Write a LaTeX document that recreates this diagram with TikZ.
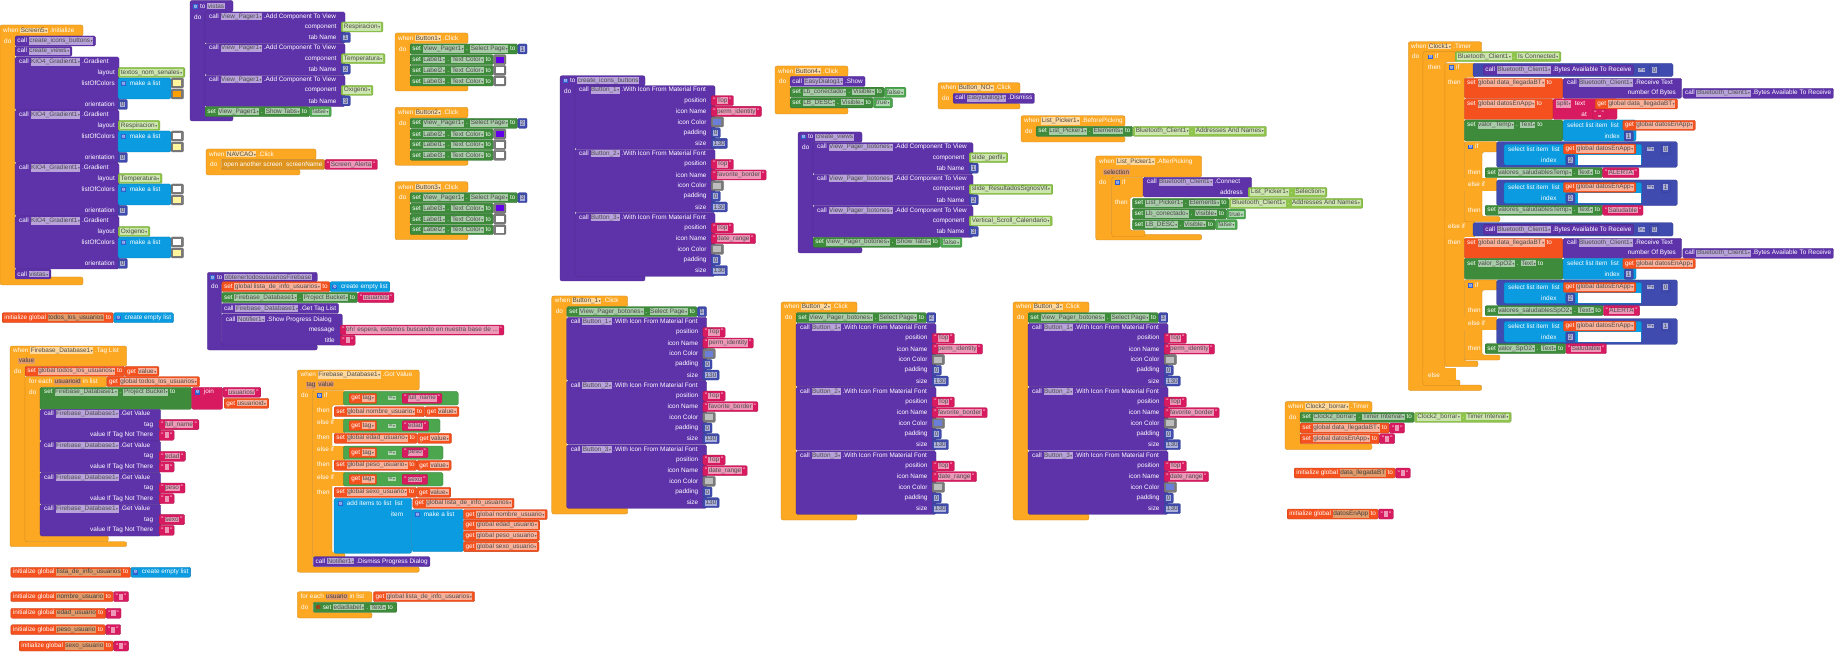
\documentclass[tikz,border=0pt]{standalone}
\usepackage{fontspec}
\setmainfont{Liberation Sans}
\newfontfamily\sym{DejaVu Sans}
\definecolor{cE}{HTML}{FDA823}
\definecolor{cP}{HTML}{5E33AA}
\definecolor{cG}{HTML}{3E8C3B}
\definecolor{cLG}{HTML}{8EC44C}
\definecolor{cM}{HTML}{D81B60}
\definecolor{cN}{HTML}{3F4BAE}
\definecolor{cV}{HTML}{F4511E}
\definecolor{cC}{HTML}{0A9BE0}
\definecolor{cGr}{HTML}{7A7A7A}
\definecolor{cL}{HTML}{4CA64E}
\definecolor{cY}{HTML}{FFF59D}
\definecolor{cO}{HTML}{FFA000}
\definecolor{cPu}{HTML}{6200EA}
\definecolor{cBl}{HTML}{6C7FD8}
\definecolor{cLg}{HTML}{BDBDBD}
\definecolor{cPar}{HTML}{E39B6A}
\definecolor{cGear}{HTML}{2F5FD0}
\newcommand\ft{\fontsize{6.4}{7}\selectfont}
\newcommand\dd{{\sym\fontsize{3.6}{4}\selectfont\,▾}}
\newcommand\fb[2]{{\fboxsep=0.6pt\colorbox{#1!45!white}{\textcolor{black!70}{#2}}}}
\newcommand\fd[2]{\fb{#1}{#2\dd}}
\newcommand\pf[1]{{\fboxsep=0.6pt\colorbox{cPar}{\textcolor{black!75}{#1}}}}
\newcommand\gear{{\fboxsep=0.5pt\colorbox{cGear}{\textcolor{white}{\sym\fontsize{4.6}{5}\selectfont ⚙}}}}
\newcommand\Cs[9]{\filldraw[#1,draw=#1!80!black,line width=0.3pt,rounded corners=2pt] (#2,#3) -- (#4,#3) -- (#4,#5) -- (#6,#5) -- (#6,#7) -- (#8,#7) -- (#8,#9) -- (#2,#9) -- cycle;}
\newcommand\Bx[3]{\filldraw[#1,draw=#1!80!black,line width=0.3pt,rounded corners=1.5pt] (#2) rectangle (#3);}
\newcommand\V[4][]{\node[v,fill=#2,draw=#2!80!black,#1] at (#3) {#4};}
\newcommand\Lb[2]{\node[lb] at (#1) {#2};}
\newcommand\Lr[2]{\node[lr] at (#1) {#2};}
\newcommand\Num[2]{\V{cN}{#1}{\fb{cN}{#2}}}
\newcommand\Str[2]{\V{cM}{#1}{"\,\fb{cM}{#2}\,"}}
\newcommand\Es[1]{\Str{#1}{\rule{0pt}{4.5pt}\hspace{3pt}}}
\newcommand\Sw[2]{\V{cGr}{#1}{{\fboxsep=0pt\colorbox{#2}{\rule{0pt}{6pt}\hspace{8pt}}}}}
\newcommand\Grad[4]{%
\Bx{cP}{15,#1}{119,#1+53}
\Lb{19,#1+5}{call \fd{cP}{KIO4\_Gradient1} .Gradient}
\Lr{115,#1+15.5}{layout}
\V{cLG}{118,#1+15.5}{\fd{cLG}{#2}}
\Lr{115,#1+26}{listOfColors}
\Bx{cC}{118,#1+21}{171,#1+42}
\Lb{121,#1+26}{\gear\ \ make a list}
\Sw{171,#1+26}{#3}
\Sw{171,#1+37}{#4}
\Lr{115,#1+47.5}{orientation}
\Num{118,#1+47.5}{0}}
\newcommand\AddC[6]{%
\Bx{cP}{#1,#2}{#3,#2+31.3}
\Lb{#1+4,#2+4.5}{call \fd{cP}{#4} .Add Component To View}
\Lr{#3-8.3,#2+15}{component}
\V{cLG}{#3-4,#2+15}{\fd{cLG}{#5}}
\Lr{#3-8.3,#2+25.5}{tab Name}
\Num{#3-4,#2+25.5}{#6}}
\newcommand\BtnC[5]{%
\Cs{cE}{395}{#1}{468}{#1+10.5}{410}{#1+52}{468}{#1+58}
\Lb{398,#1+5.3}{when \fd{cE}{Button#2} .Click}
\Lb{399,#1+16}{do}
\V[name=a]{cG}{410,#1+16}{set \fd{cG}{View\_Pager1} . \fd{cG}{Select Page} to}
\Num{a.east}{#2}
\V[name=a]{cG}{410,#1+26.7}{set \fd{cG}{Label#3} . \fd{cG}{Text Color} to}
\Sw{a.east}{cPu}
\V[name=a]{cG}{410,#1+37.3}{set \fd{cG}{Label#4} . \fd{cG}{Text Color} to}
\Sw{a.east}{white}
\V[name=a]{cG}{410,#1+48}{set \fd{cG}{Label#5} . \fd{cG}{Text Color} to}
\Sw{a.east}{white}}
\newcommand\IconC[5]{%
\Bx{cP}{#1,#2}{#1+140,#2+63.3}
\Lb{#1+4,#2+4.5}{call \fd{cP}{Button\_#3} .With Icon From Material Font}
\Lr{#1+131.7,#2+15}{position}
\Str{#1+136,#2+15}{Top}
\Lr{#1+131.7,#2+25.7}{icon Name}
\Str{#1+136,#2+25.7}{#4}
\Lr{#1+131.7,#2+36.3}{icon Color}
\Sw{#1+136,#2+36.3}{#5}
\Lr{#1+131.7,#2+47}{padding}
\Num{#1+136,#2+47}{0}
\Lr{#1+131.7,#2+57.7}{size}
\Num{#1+136,#2+57.7}{130}}
\newcommand\BClk[6]{%
\Cs{cE}{#1}{#2}{#1+76}{#2+10.5}{#1+15}{#2+212}{#1+76}{#2+218}
\Lb{#1+3,#2+5}{when \fd{cE}{Button\_#3} .Click}
\Lb{#1+4,#2+15.7}{do}
\V[name=a]{cG}{#1+15,#2+15.7}{set \fd{cG}{View\_Pager\_botones} . \fd{cG}{Select Page} to}
\Num{a.east}{#3}
\IconC{#1+15}{#2+21.3}{1}{perm\_identity}{#4}
\IconC{#1+15}{#2+85}{2}{favorite\_border}{#5}
\IconC{#1+15}{#2+149}{3}{date\_range}{#6}}
\newcommand\BCmp[1]{%
\Bx{cN}{1473,#1}{1673,#1+13.4}
\V[name=c]{cP}{1483,#1+6.7}{call \fd{cP}{Bluetooth\_Client1} .Bytes Available To Receive}
\node[lb,name=g] at ([xshift=4pt]c.east) {\fd{cN}{>}};
\Num{[xshift=4pt]g.east}{0}}
\newcommand\RecvRow[1]{%
\Bx{cV}{1464.3,#1}{1563,#1+20}
\Lb{1467,#1+4.7}{set \fd{cV}{global data\_llegadaBT} to}
\Bx{cP}{1563,#1}{1681.7,#1+20}
\Lb{1567,#1+4.7}{call \fd{cP}{Bluetooth\_Client1} .Receive Text}
\Lr{1676,#1+15}{number Of Bytes}
\V{cP}{1682.7,#1+15}{call \fd{cP}{Bluetooth\_Client1} .Bytes Available To Receive}}
\newcommand\SelRow[2]{%
\Bx{cG}{1464.3,#1}{1563,#1+21}
\Lb{1467,#1+5.3}{set \fd{cG}{#2} . \fd{cG}{Text} to}
\Bx{cC}{1563,#1}{1636,#1+21}
\Lb{1567,#1+5.3}{select list item \ list}
\Lr{1620,#1+16}{index}
\V{cV}{1622.7,#1+5.3}{get \fd{cV}{global datosEnApp}}
\Num{1624,#1+16}{1}}
\newcommand\SelCmp[2]{%
\Bx{cN}{1496.7,#1}{1677.3,#1+25.6}
\Bx{cC}{1504,#1+2.6}{1641.7,#1+23.3}
\Lb{1508,#1+7.3}{select list item \ list}
\Lr{1556.7,#1+18.3}{index}
\V{cV}{1563.3,#1+7.3}{get \fd{cV}{global datosEnApp}}
\Num{1565.7,#1+18.3}{2}
\fill[white] (1577.5,#1+13.5) rectangle (1641,#1+23.1);
\Lb{1646.7,#1+7.3}{\fd{cN}{=}}
\Num{1661,#1+7.3}{#2}}
\newcommand\GetV[2]{%
\Bx{cP}{40,#1}{160.7,#1+31.7}
\Lb{44,#1+4.7}{call \fd{cP}{Firebase\_Database1} .Get Value}
\Lr{153.3,#1+15.3}{tag}
\Str{159,#1+15.3}{#2}
\Lr{153.3,#1+26}{value If Tag Not There}
\Es{159,#1+26}}
\newcommand\TC[3]{%
\Bx{cL}{343.3,#1-6.7}{#3,#1+6.7}
\V{cV}{349,#1}{get \fd{cV}{tag}}
\Lb{388,#1}{\fd{cL}{=}}
\Str{402,#1}{#2}}
\begin{document}
\begin{tikzpicture}[x=1pt,y=-1pt,
 v/.style={anchor=west,inner xsep=2.2pt,inner ysep=0pt,minimum height=10pt,text=white,font=\ft,rounded corners=1.2pt,line width=0.3pt},
 lb/.style={anchor=west,inner sep=0pt,text=white,font=\ft},
 lr/.style={anchor=east,inner sep=0pt,text=white,font=\ft}]
\fill[white] (0,0) rectangle (1836,652);
\useasboundingbox (0,0) rectangle (1836,652);
% Screen5.Initialize
\Cs{cE}{0}{25}{83}{36}{15}{277}{83}{285}
\Lb{3,30.5}{when \fd{cE}{Screen5} .Initialize}
\Lb{4,41}{do}
\V{cP}{15,41}{call \fd{cP}{create\_icons\_buttons}}
\V{cP}{15,51.3}{call \fd{cP}{create\_views}}
\Grad{57}{textos\_nom\_senales}{cY}{cO}
\Grad{110}{Respiracion}{white}{cY}
\Grad{163}{Temperatura}{white}{cY}
\Grad{216}{Oxigeno}{white}{cY}
\V{cP}{15,274}{call \fd{cP}{vistas}}
% to vistas
\Cs{cP}{190}{0.5}{233}{12}{205}{112}{233}{121}
\Lb{193,6}{\gear\ to \fb{cP}{vistas}}
\Lb{194,17}{do}
\AddC{205}{12}{345}{View\_Pager1}{Respiracion}{1}
\AddC{205}{43.7}{345}{View\_Pager1}{Temperatura}{2}
\AddC{205}{75.3}{345}{View\_Pager1}{Oxigeno}{3}
\V[name=a]{cG}{205,111.7}{set \fd{cG}{View\_Pager1} . \fd{cG}{Show Tabs} to}
\V{cL}{a.east}{\fd{cL}{false}}
% NAVCAO
\Cs{cE}{206}{149}{316}{159.3}{221}{169.3}{300}{175}
\Lb{209,154}{when \fd{cE}{NAVCAO} .Click}
\Lb{210,164.5}{do}
\V[name=a]{cE!88!black}{221.5,164.5}{open another screen \ screenName}
\Str{a.east}{Screen\_Alerta}
% Button1..3
\BtnC{33}{1}{1}{2}{3}
\BtnC{107.3}{2}{2}{1}{3}
\BtnC{181.7}{3}{3}{1}{2}
% create_icons_buttons
\Cs{cP}{560}{75.7}{645}{86}{575}{275}{645}{281}
\Lb{563,80.8}{\gear\ to \fb{cP}{create\_icons\_buttons}}
\Lb{564,91}{do}
\IconC{575}{85.7}{1}{perm\_identity}{cBl}
\IconC{575}{149.3}{2}{favorite\_border}{cLg}
\IconC{575}{213}{3}{date\_range}{cLg}
% Button4
\Cs{cE}{775}{66}{848}{76.3}{790}{108}{848}{114}
\Lb{778,71}{when \fd{cE}{Button4} .Click}
\Lb{779,81.5}{do}
\V{cP}{790,81.5}{call \fd{cP}{EasyDialog1} .Show}
\V[name=a]{cG}{790,92.2}{set \fd{cG}{Lb\_conectado} . \fd{cG}{Visible} to}
\V{cL}{a.east}{\fd{cL}{false}}
\V[name=a]{cG}{790,102.9}{set \fd{cG}{LB\_DESC} . \fd{cG}{Visible} to}
\V{cL}{a.east}{\fd{cL}{true}}
% Button_NO
\Cs{cE}{938}{82.7}{1020}{93.2}{953}{103.5}{1020}{109}
\Lb{941,88}{when \fd{cE}{Button\_NO} .Click}
\Lb{942,98.3}{do}
\V{cP}{953,98.3}{call \fd{cP}{EasyDialog1} .Dismiss}
% BeforePicking
\Cs{cE}{1021}{115.7}{1125}{126.2}{1036}{136.5}{1125}{142}
\Lb{1024,121}{when \fd{cE}{List\_Picker1} .BeforePicking}
\Lb{1025,131.3}{do}
\V[name=a]{cG}{1036,131.3}{set \fd{cG}{List\_Picker1} . \fd{cG}{Elements} to}
\V{cLG}{a.east}{\fd{cLG}{Bluetooth\_Client1} . \fd{cLG}{Addresses And Names}}
% create_views
\Cs{cP}{798}{132}{862}{142.5}{813}{247}{862}{253}
\Lb{801,137.2}{\gear\ to \fb{cP}{create\_views}}
\Lb{802,147.5}{do}
\AddC{813}{142.7}{973}{View\_Pager\_botones}{slide\_perfil}{1}
\AddC{813}{174.3}{973}{View\_Pager\_botones}{slide\_ResultadosSignosVit}{2}
\AddC{813}{206}{973}{View\_Pager\_botones}{Vertical\_Scroll\_Calendario}{3}
\V[name=a]{cG}{813,242.3}{set \fd{cG}{View\_Pager\_botones} . \fd{cG}{Show Tabs} to}
\V{cL}{a.east}{\fd{cL}{false}}
% AfterPicking
\Cs{cE}{1095.7}{156}{1201.7}{177}{1111.7}{234.5}{1201.7}{240}
\Lb{1099,161.7}{when \fd{cE}{List\_Picker1} .AfterPicking}
\Lb{1103,172}{\pf{selection}}
\Lb{1099,182.3}{do}
\Cs{cE}{1111.7}{177.3}{1143.5}{197}{1130}{230.5}{1145}{236.5}
\Lb{1115,182.3}{\gear\ if}
\Lb{1115,202.3}{then}
\Bx{cP}{1143,177.3}{1251.7,197}
\Lb{1147,182.3}{call \fd{cP}{Bluetooth\_Client1} .Connect}
\Lr{1243,192.3}{address}
\V{cLG}{1248,192.3}{\fd{cLG}{List\_Picker1} . \fd{cLG}{Selection}}
\V[name=a]{cG}{1132.3,203.3}{set \fd{cG}{List\_Picker1} . \fd{cG}{Elements} to}
\V{cLG}{a.east}{\fd{cLG}{Bluetooth\_Client1} . \fd{cLG}{Addresses And Names}}
\V[name=a]{cG}{1132.3,214}{set \fd{cG}{Lb\_conectado} . \fd{cG}{Visible} to}
\V{cL}{a.east}{\fd{cL}{true}}
\V[name=a]{cG}{1132.3,224.7}{set \fd{cG}{LB\_DESC} . \fd{cG}{Visible} to}
\V{cL}{a.east}{\fd{cL}{false}}
% Clock1.Timer
\Cs{cE}{1408.3}{41.7}{1481.7}{52}{1423}{385}{1481.7}{390.5}
\Lb{1411,46.5}{when \fd{cE}{Clock1} .Timer}
\Lb{1412,56.7}{do}
\Cs{cE}{1423}{51.7}{1456}{62}{1445}{380}{1460}{385.5}
\fill[cE] (1423,367.5) rectangle (1456,380);
\Lb{1428,56.7}{\gear\ if}
\V{cLG}{1455,56.7}{\fd{cLG}{Bluetooth\_Client1} . \fd{cLG}{Is Connected}}
\Lb{1428,67.3}{then}
\Lb{1428,375}{else}
\Cs{cE}{1445}{63.3}{1475}{77.5}{1464.3}{361}{1478}{366.7}
\fill[cE] (1445,221) rectangle (1475,237);
\Lb{1449,67.3}{\gear\ if}
\Lb{1448,82.3}{then}
\Lb{1448,226.7}{else if}
\Lb{1448,242.7}{then}
\BCmp{63.3}
\RecvRow{78.3}
\Bx{cV}{1464.3,98.8}{1553,119.5}
\Lb{1467,104}{set \fd{cV}{global datosEnApp} to}
\Bx{cM}{1553,98.8}{1617,119.5}
\Lb{1556,104}{\fd{cM}{split} \ text}
\Lr{1587,114.3}{at}
\V{cV}{1595,104}{get \fd{cV}{global data\_llegadaBT}}
\Str{1592,114.3}{,}
\SelRow{120}{valor\_Temp}
\Cs{cE}{1464.3}{141.7}{1497}{152}{1482}{216.5}{1500}{221.7}
\fill[cE] (1464.3,178.5) rectangle (1497,191);
\Lb{1468,146.7}{\gear\ if}
\SelCmp{141.7}{0}
\Lb{1468,172.7}{then}
\V[name=a]{cG}{1485,172.7}{set \fd{cG}{valores\_saludablesTemp} . \fd{cG}{Text} to}
\Str{a.east}{ALERTA}
\Lb{1468,184.3}{else if}
\SelCmp{180}{1}
\Lb{1468,210.3}{then}
\V[name=a]{cG}{1485,210.3}{set \fd{cG}{valores\_saludablesTemp} . \fd{cG}{Text} to}
\Str{a.east}{Saludable}
\BCmp{222.7}
\RecvRow{238.3}
\SelRow{258.3}{valor\_SpO2}
\Cs{cE}{1464.3}{280}{1497}{290}{1482}{355}{1500}{360}
\fill[cE] (1464.3,317) rectangle (1497,329.5);
\Lb{1468,285}{\gear\ if}
\SelCmp{280}{0}
\Lb{1468,310.7}{then}
\V[name=a]{cG}{1485,310.7}{set \fd{cG}{valores\_saludablesSpO2} . \fd{cG}{Text} to}
\Str{a.east}{ALERTA}
\Lb{1468,323.3}{else if}
\SelCmp{318.7}{1}
\Lb{1468,348.7}{then}
\V[name=a]{cG}{1485,348.7}{set \fd{cG}{valor\_SpO2} . \fd{cG}{Text} to}
\Str{a.east}{Saludable}
% Clock2_borrar
\Cs{cE}{1285}{401.6}{1372}{412}{1300}{444}{1372}{449.5}
\Lb{1288,406.8}{when \fd{cE}{Clock2\_borrar} .Timer}
\Lb{1289,417.3}{do}
\V[name=a]{cG}{1300,417.3}{set \fd{cG}{Clock2\_borrar} . \fd{cG}{Timer Interval} to}
\V{cLG}{a.east}{\fd{cLG}{Clock2\_borrar} . \fd{cLG}{Timer Interval}}
\V[name=a]{cV}{1300,428}{set \fd{cV}{global data\_llegadaBT} to}
\Es{a.east}
\V[name=a]{cV}{1300,438.7}{set \fd{cV}{global datosEnApp} to}
\Es{a.east}
\V[name=a]{cV}{1294,473}{initialize global \pf{data\_llegadaBT} to}
\Es{a.east}
\V[name=a]{cV}{1287,514}{initialize global \pf{datosEnApp} to}
\Es{a.east}
% globals bottom-left
\V[name=a]{cV}{2,317.7}{initialize global \pf{todos\_los\_usuarios} to}
\V{cC}{a.east}{\gear\ \ create empty list}
% Firebase TagList
\Cs{cE}{10}{346}{126.7}{366}{25}{541.7}{126.7}{546.7}
\Lb{13,350.5}{when \fd{cE}{Firebase\_Database1} .Tag List}
\Lb{18,360.7}{\pf{value}}
\Lb{14,371.3}{do}
\V[name=a]{cV}{25,371.3}{set \fd{cV}{global todos\_los\_usuarios} to}
\V{cV}{a.east}{get \fd{cV}{value}}
\Cs{cE}{25}{376.5}{106.7}{387}{40}{535.5}{108.3}{541.7}
\Lb{29,381.7}{for each \pf{usuarioid} in list}
\V{cV}{106.7,381.7}{get \fd{cV}{global todos\_los\_usuarios}}
\Lb{29,392.3}{do}
\Bx{cG}{40,387.3}{191.7,409.3}
\Lb{44,392.3}{set \fd{cG}{Firebase\_Database1} . \fd{cG}{Project Bucket} to}
\Bx{cM}{191.7,387.3}{222.7,409.3}
\Lb{195,392.3}{\gear\ \ join}
\Str{222.7,392.3}{usuarios/}
\V{cV}{224,403.3}{get \fd{cV}{usuarioid}}
\GetV{409.3}{full\_name}
\GetV{441}{edad}
\GetV{472.7}{peso}
\GetV{504.3}{sexo}
\V[name=a]{cV}{10.7,572.3}{initialize global \pf{lista\_de\_info\_usuarios} to}
\V{cC}{a.east}{\gear\ \ create empty list}
\V[name=a]{cV}{10.7,596.7}{initialize global \pf{nombre\_usuario} to}
\Es{a.east}
\V[name=a]{cV}{10.7,613.3}{initialize global \pf{edad\_usuario} to}
\Es{a.east}
\V[name=a]{cV}{10.7,629.7}{initialize global \pf{peso\_usuario} to}
\Es{a.east}
\V[name=a]{cV}{19,646}{initialize global \pf{sexo\_usuario} to}
\Es{a.east}
% obtenertodosusuariosFirebase
\Cs{cP}{207.3}{272.3}{317.3}{282}{221.7}{344.5}{317.3}{350}
\Lb{210,276.8}{\gear\ to \fb{cP}{obtenertodosusuariosFirebase}}
\Lb{211,286.7}{do}
\V[name=a]{cV}{221.7,286.7}{set \fd{cV}{global lista\_de\_info\_usuarios} to}
\V{cC}{a.east}{\gear\ \ create empty list}
\V[name=a]{cG}{221.7,297.5}{set \fd{cG}{Firebase\_Database1} . \fd{cG}{Project Bucket} to}
\Str{a.east}{usuarios}
\V{cP}{221.7,308.4}{call \fd{cP}{Firebase\_Database1} .Get Tag List}
\Bx{cP}{221.7,314}{342.3,345}
\Lb{225.7,319.5}{call \fd{cP}{Notifier1} .Show Progress Dialog}
\Lr{335,330}{message}
\Str{340,330}{oh! espera, estamos buscando en nuestra base de ...}
\Lr{335,340.3}{title}
\Es{340,340.3}
% Firebase GotValue
\Cs{cE}{297.3}{370}{419.3}{390}{312.7}{567}{419.3}{572.3}
\Lb{300.5,375}{when \fd{cE}{Firebase\_Database1} .Got Value}
\Lb{305.7,385}{\pf{tag} \pf{value}}
\Lb{301,395}{do}
\Cs{cE}{312.7}{390.7}{345}{405}{332}{553}{345}{558}
\fill[cE] (312.7,418.5) rectangle (345,432.5);
\fill[cE] (312.7,445.5) rectangle (345,459.5);
\fill[cE] (312.7,472) rectangle (345,486);
\Lb{317,395}{\gear\ if}
\Lb{317,410.7}{then}
\Lb{317,422.3}{else if}
\Lb{317,437.7}{then}
\Lb{317,449.3}{else if}
\Lb{317,464.7}{then}
\Lb{317,477}{else if}
\Lb{317,492}{then}
\TC{398.3}{full\_name}{458.3}
\TC{425.7}{edad}{440}
\TC{452.7}{peso}{443}
\TC{479.3}{sexo}{443}
\V[name=a]{cV}{334,411.7}{set \fd{cV}{global nombre\_usuario} to}
\V{cV}{a.east}{get \fd{cV}{value}}
\V[name=a]{cV}{334,438.3}{set \fd{cV}{global edad\_usuario} to}
\V{cV}{a.east}{get \fd{cV}{value}}
\V[name=a]{cV}{334,465.3}{set \fd{cV}{global peso\_usuario} to}
\V{cV}{a.east}{get \fd{cV}{value}}
\V[name=a]{cV}{334,492.3}{set \fd{cV}{global sexo\_usuario} to}
\V{cV}{a.east}{get \fd{cV}{value}}
\Bx{cC}{334,498.3}{411.7,553.3}
\Lb{338,503.3}{\gear\ \ add items to list \ list}
\Lr{403.3,514}{item}
\V{cV}{412.7,503.3}{get \fd{cV}{global lista\_de\_info\_usuarios}}
\Bx{cC}{411.7,509.5}{463.3,551.7}
\Lb{415,514}{\gear\ \ make a list}
\V{cV}{463.3,514.5}{get \fd{cV}{global nombre\_usuario}}
\V{cV}{463.3,525.2}{get \fd{cV}{global edad\_usuario}}
\V{cV}{463.3,535.9}{get \fd{cV}{global peso\_usuario}}
\V{cV}{463.3,546.6}{get \fd{cV}{global sexo\_usuario}}
\V{cP}{313.3,561.7}{call \fd{cP}{Notifier1} .Dismiss Progress Dialog}
% for each usuario
\Cs{cE}{297.3}{591.7}{372}{602}{312.7}{612.5}{372}{618}
\Lb{300.5,596.7}{for each \pf{usuario} in list}
\V{cV}{373.3,596.7}{get \fd{cV}{global lista\_de\_info\_usuarios}}
\Lb{301,607.3}{do}
\V{cG}{313.3,607.3}{{\sym\textcolor{red}{⊗}} set \fd{cG}{edadlabel} . \fd{cG}{Text} to \ }
% Button_1..3 Click
\BClk{551.7}{296}{1}{cBl}{cLg}{cLg}
\BClk{781}{302}{2}{cLg}{cBl}{cLg}
\BClk{1013}{302}{3}{cLg}{cLg}{cBl}
\end{tikzpicture}
\end{document}
